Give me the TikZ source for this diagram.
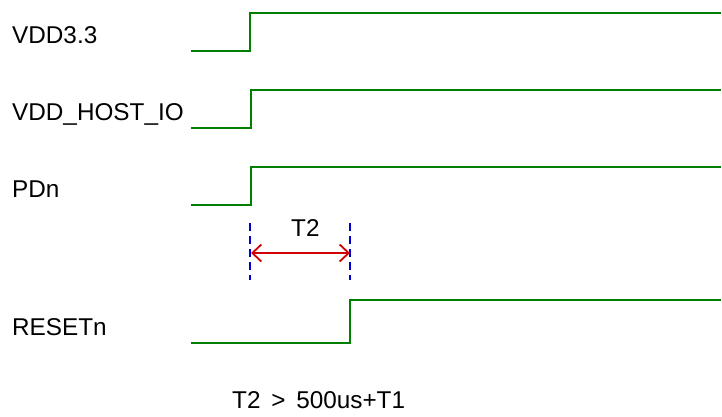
\documentclass[tikz,border=0pt]{standalone}
\usepackage{fontspec}
\setmainfont{Liberation Sans}
\usetikzlibrary{arrows.meta}
\definecolor{sig}{RGB}{0,128,0}
\definecolor{mark}{RGB}{0,0,210}
\definecolor{dim}{RGB}{210,0,0}
\begin{document}
\begin{tikzpicture}[x=1pt,y=-1pt,
  lbl/.style={anchor=base west,inner sep=0pt,font=\fontsize{24.3}{28}\selectfont},
  wave/.style={draw=sig,line width=2pt},
  guide/.style={draw=mark,line width=1.8pt,dash pattern=on 8pt off 5pt},
  dimarrow/.style={draw=dim,line width=1.8pt,{Straight Barb[length=9pt,width=17pt,line width=1.8pt]}-{Straight Barb[length=9pt,width=17pt,line width=1.8pt]}}]
\useasboundingbox (0,0) rectangle (722,416);
% labels
\node[lbl] (l1) at (12,43) {VDD3.3};
\node[lbl] (l2) at (12,120) {VDD\_HOST\_IO};
\node[lbl] (l3) at (12,197) {PDn};
\node[lbl] (l4) at (12,335) {RESETn};
% waveforms
\draw[wave] (191,51) -- (250,51) -- (250,13) -- (721,13);
\draw[wave] (191,128) -- (251,128) -- (251,90) -- (721,90);
\draw[wave] (191,205) -- (251,205) -- (251,167) -- (721,167);
\draw[wave] (191,343) -- (350,343) -- (350,300) -- (721,300);
% timing marks
\coordinate (ga1) at (250,223);
\coordinate (gb1) at (250,280);
\coordinate (ga2) at (350,223);
\coordinate (gb2) at (350,280);
\draw[guide] (ga1) -- (gb1);
\draw[guide] (ga2) -- (gb2);
\coordinate (aL) at (251,253);
\coordinate (aR) at (350,253);
\draw[dimarrow] (aL) -- (aR);
\node[lbl] (t2) at (291,236) {T2};
\node[lbl] (eq) at (232,408) {T2 \,>\, 500us+T1};
\end{tikzpicture}
\end{document}
